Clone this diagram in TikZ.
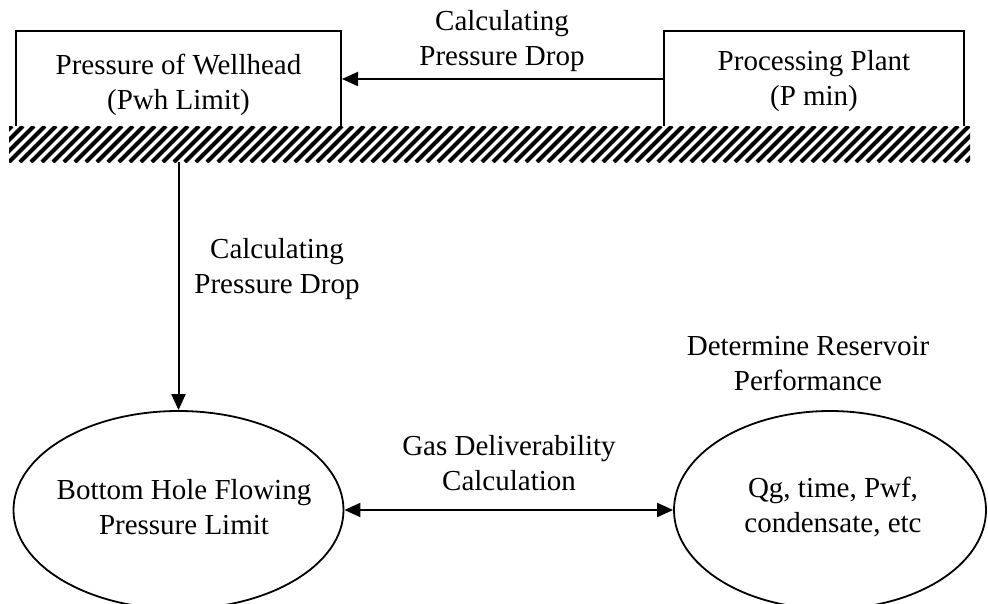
\documentclass[tikz,border=0pt]{standalone}
\usepackage{fontspec}
\setmainfont{Liberation Serif}
\usetikzlibrary{arrows.meta,shapes.geometric}
\begin{document}
\begin{tikzpicture}[x=1pt,y=-1pt,
  txt/.style={font=\fontsize{29}{35}\selectfont, align=center, anchor=base, inner sep=0pt},
  boxshape/.style={draw, line width=2pt, rectangle, inner sep=0pt},
  ell/.style={draw, ellipse, line width=1.8pt, inner sep=0pt},
  arr/.style={line width=2pt, -{Triangle[length=16pt,width=14pt]}},
  darr/.style={line width=2pt, {Triangle[length=16pt,width=14pt]}-{Triangle[length=16pt,width=14pt]}}]
\useasboundingbox (0,0) rectangle (988,603);
\clip (0,0) rectangle (988,603);
\fill[white] (0,0) rectangle (988,603);
% boxes
\node[boxshape, minimum width=325pt, minimum height=120pt] (wellhead) at (178.5,91) {};
\node[boxshape, minimum width=300pt, minimum height=120pt] (plant) at (814,91) {};
% hatch band
\begin{scope}
\clip (9,126) rectangle (970,162);
\fill[white] (9,126) rectangle (970,162);
\foreach \i in {-5,...,90} \draw[line width=4pt] ({9+11*\i},162) -- ({45+11*\i},126);
\end{scope}
% ellipses
\node[ell, minimum width=330pt, minimum height=198pt] (bhp) at (178.5,510) {};
\node[ell, minimum width=312pt, minimum height=198pt] (res) at (830,510) {};
% texts (anchor = baseline of last line)
\node[txt] (tw) at (178.5,109) {Pressure of Wellhead\\(Pwh Limit)};
\node[txt] (tp) at (814,105) {Processing Plant\\(P min)};
\node[txt] (ltop) at (502,65) {Calculating\\Pressure Drop};
\node[txt] (lvert) at (277,293) {Calculating\\Pressure Drop};
\node[txt] (lgas) at (509,490) {Gas Deliverability\\Calculation};
\node[txt] (lres) at (808,390) {Determine Reservoir\\Performance};
\node[txt] (tb) at (184,534) {Bottom Hole Flowing\\Pressure Limit};
\node[txt] (tq) at (833,532) {Qg, time, Pwf,\\condensate, etc};
% connectors
\coordinate (vtop) at (178.5,162);
\draw[arr] ([yshift=12pt]plant.west) -- ([yshift=12pt]wellhead.east);
\draw[arr] (vtop) -- (bhp.north);
\draw[darr] (bhp.east) -- (res.west);
\end{tikzpicture}
\end{document}
